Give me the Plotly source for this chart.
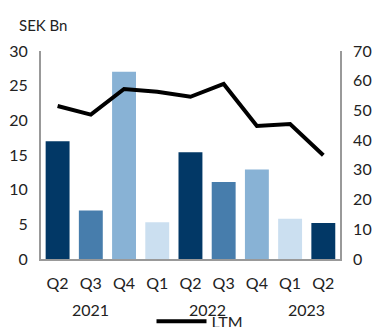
import plotly.graph_objects as go
from plotly.subplots import make_subplots

years = ["2021", "2021", "2021", "2022", "2022", "2022", "2022", "2023", "2023"]
quarters = ["Q2", "Q3", "Q4", "Q1", "Q2", "Q3", "Q4", "Q1", "Q2"]
quarterly = [17.0, 7.0, 27.0, 5.3, 15.4, 11.1, 12.9, 5.8, 5.2]
ltm = [51.5, 48.6, 57.2, 56.3, 54.6, 58.9, 44.8, 45.4, 34.9]

qcolors = {"Q2": "#023866", "Q3": "#477dac", "Q4": "#88b2d5", "Q1": "#cbdff0"}
bar_colors = [qcolors[q] for q in quarters]
xpos = list(range(len(quarters)))

FONT = "Lato"
fig = make_subplots(specs=[[{"secondary_y": True}]])
fig.add_trace(go.Bar(x=xpos, y=quarterly, marker_color=bar_colors,
                     marker_line_width=0, showlegend=False), secondary_y=False)
fig.add_trace(go.Scatter(x=xpos, y=ltm, mode="lines", name="LTM",
                         line=dict(color="black", width=4)), secondary_y=True)

# year labels centred under their quarter groups
year_annots = []
for yr in dict.fromkeys(years):
    idx = [i for i, y in enumerate(years) if y == yr]
    year_annots.append(dict(text=yr, x=sum(idx) / len(idx), xref="x", y=-0.245, yref="paper",
                            yanchor="middle", showarrow=False, font=dict(size=16)))

fig.update_layout(
    width=392, height=327,
    margin=dict(l=41, r=33, t=51, b=68, autoexpand=False),
    paper_bgcolor="white", plot_bgcolor="white",
    font=dict(family=FONT, size=16, color="#222222"),
    bargap=0.28,
    legend=dict(orientation="h", x=0.5, xanchor="center", y=-0.3, yanchor="middle",
                font=dict(size=16), bgcolor="rgba(0,0,0,0)", itemwidth=50),
    annotations=[dict(text="SEK Bn", x=-0.075, y=1.125, xref="paper", yref="paper",
                      xanchor="left", yanchor="middle", showarrow=False,
                      font=dict(size=15))] + year_annots,
)
fig.update_xaxes(range=[-0.5, len(quarters) - 0.5], tickmode="array", tickvals=xpos,
                 ticktext=quarters, showline=True, linecolor="#999999", linewidth=2,
                 ticks="", showgrid=False, zeroline=False, ticklabelstandoff=9)
fig.update_yaxes(range=[0, 30], dtick=5, showline=True, linecolor="#999999", linewidth=2,
                 showgrid=False, zeroline=False, ticks="", ticklabelstandoff=8,
                 secondary_y=False)
fig.update_yaxes(range=[0, 70], dtick=10, showline=True, linecolor="#999999", linewidth=2,
                 showgrid=False, zeroline=False, ticks="", ticklabelstandoff=8,
                 secondary_y=True)

fig.write_html("out.html")
